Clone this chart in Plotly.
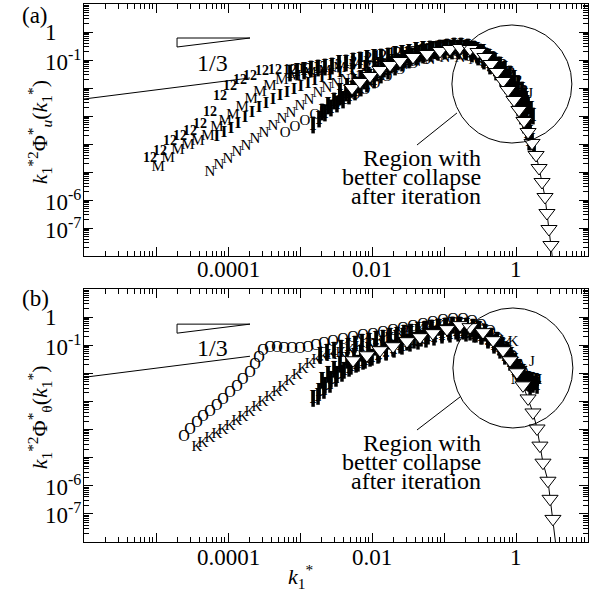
import plotly.graph_objects as go

# ---------------- panel (a) data ----------------
a12_x = [8.25e-6, 1.14e-5, 1.57e-5, 2.15e-5, 2.97e-5, 4.08e-5, 5.62e-5, 7.74e-5, 1.07e-4, 1.47e-4, 2.02e-4, 2.97e-4,
         4.5e-4, 7.26e-4, 1.17e-3, 1.9e-3, 3.06e-3, 4.95e-3, 8.0e-3, 1.29e-2, 2.09e-2, 3.37e-2, 5.45e-2, 8.8e-2,
         0.142, 0.215, 0.316, 0.435, 0.6, 0.774, 0.97, 1.17]
a12_y = [3.16e-5, 5.62e-5, 1.28e-4, 1.78e-4, 2.91e-4, 5.18e-4, 1.39e-3, 5.18e-3, 1.09e-2, 1.93e-2, 2.68e-2, 3.73e-2,
         4.05e-2, 4.39e-2, 4.77e-2, 5.62e-2, 6.63e-2, 8.48e-2, 0.109, 0.139, 0.164, 0.193, 0.228, 0.268,
         0.291, 0.268, 0.193, 0.118, 6.63e-2, 3.43e-2, 1.64e-2, 7.81e-3]

aM_x = [1.07e-5, 1.47e-5, 2.02e-5, 2.78e-5, 3.83e-5, 5.28e-5, 7.0e-5, 9.1e-5, 1.17e-4, 1.57e-4, 2.09e-4, 2.78e-4,
        3.83e-4, 5.62e-4, 8.5e-4, 1.38e-3, 2.22e-3, 3.59e-3, 5.81e-3, 9.38e-3, 1.52e-2, 2.45e-2, 3.96e-2, 6.39e-2,
        0.103, 0.167, 0.245, 0.359, 0.495, 0.66, 0.85, 1.07, 1.29]
aM_y = [1.51e-5, 3.16e-5, 6.1e-5, 9.2e-5, 1.28e-4, 1.93e-4, 4.05e-4, 6.63e-4, 1.09e-3, 2.1e-3, 4.05e-3, 7.2e-3,
        1.18e-2, 1.93e-2, 2.68e-2, 3.43e-2, 4.05e-2, 5.18e-2, 6.63e-2, 8.48e-2, 0.1, 0.118, 0.139, 0.164,
        0.193, 0.193, 0.164, 0.118, 7.2e-2, 3.73e-2, 1.78e-2, 7.81e-3, 3.43e-3]

aI_x = [7.0e-5, 8.8e-5, 1.1e-4, 1.38e-4, 1.72e-4, 2.15e-4, 2.69e-4, 3.37e-4, 4.22e-4, 5.28e-4, 6.6e-4, 8.25e-4,
        1.03e-3, 1.29e-3, 1.61e-3, 2.02e-3, 2.61e-3, 3.59e-3, 5.28e-3, 8.0e-3, 1.21e-2, 1.9e-2, 2.97e-2, 4.64e-2,
        7.5e-2, 0.121, 0.196, 0.297, 0.435, 0.6, 0.774, 0.97, 1.17, 1.38]
aI_y = [1.78e-4, 2.47e-4, 3.43e-4, 5.18e-4, 8.48e-4, 1.28e-3, 1.93e-3, 2.68e-3, 3.73e-3, 5.18e-3, 6.63e-3, 8.48e-3,
        1.09e-2, 1.39e-2, 1.78e-2, 2.28e-2, 2.68e-2, 3.43e-2, 4.39e-2, 5.62e-2, 7.2e-2, 9.2e-2, 0.109, 0.128,
        0.151, 0.164, 0.151, 0.118, 7.2e-2, 3.73e-2, 1.93e-2, 8.48e-3, 3.73e-3, 1.51e-3]

aN_x = [5.62e-5, 7.5e-5, 1.0e-4, 1.33e-4, 1.78e-4, 2.37e-4, 3.16e-4, 4.22e-4, 5.62e-4, 7.5e-4, 1.0e-3, 1.33e-3,
        1.78e-3, 2.37e-3, 3.16e-3, 4.22e-3, 5.81e-3, 8.25e-3, 1.21e-2, 1.78e-2, 2.69e-2, 4.08e-2, 6.39e-2, 0.103,
        0.167, 0.261, 0.383, 0.528, 0.7, 0.91, 1.14, 1.38]
aN_y = [1.0e-5, 1.78e-5, 2.91e-5, 5.18e-5, 8.48e-5, 1.51e-4, 2.47e-4, 4.39e-4, 7.81e-4, 1.28e-3, 2.28e-3, 3.73e-3,
        6.63e-3, 1.0e-2, 1.39e-2, 1.93e-2, 2.47e-2, 3.16e-2, 4.05e-2, 5.18e-2, 6.63e-2, 8.48e-2, 0.1, 0.118,
        0.118, 0.1, 7.2e-2, 4.39e-2, 2.28e-2, 1.09e-2, 4.39e-3, 1.64e-3]

aO_x = [6.2e-4, 8.5e-4, 1.17e-3, 1.61e-3, 2.22e-3, 3.06e-3, 4.22e-3, 5.81e-3, 8.0e-3, 1.1e-2, 1.61e-2, 2.45e-2,
        3.71e-2, 5.62e-2, 8.8e-2, 0.142, 0.23, 0.348, 0.495, 0.66, 0.85, 1.07, 1.29]
aO_y = [2.47e-4, 4.05e-4, 6.63e-4, 1.09e-3, 1.64e-3, 2.47e-3, 3.73e-3, 5.62e-3, 8.48e-3, 1.39e-2, 2.47e-2, 4.39e-2,
        7.2e-2, 0.1, 0.128, 0.151, 0.128, 8.48e-2, 4.39e-2, 2.1e-2, 9.2e-3, 3.73e-3, 1.39e-3]

aB1_x = [1.52e-3, 1.84e-3, 2.22e-3, 2.69e-3, 3.26e-3, 3.96e-3, 4.8e-3, 5.81e-3, 7.0e-3, 8.5e-3, 1.07e-2, 1.33e-2,
         1.67e-2, 2.09e-2, 2.61e-2, 3.26e-2, 4.08e-2, 5.1e-2, 6.39e-2, 8.0e-2, 0.1, 0.125, 0.157, 0.196, 0.237,
         0.287, 0.348, 0.422, 0.51, 0.6, 0.7, 0.825, 0.938, 1.07, 1.21, 1.33, 1.47, 1.57, 1.67, 1.78]
aB1_y = [4.77e-4, 7.81e-4, 1.28e-3, 1.93e-3, 2.68e-3, 3.73e-3, 5.18e-3, 7.2e-3, 1.0e-2, 1.39e-2, 1.93e-2, 2.91e-2,
         4.05e-2, 5.62e-2, 7.81e-2, 0.1, 0.128, 0.151, 0.178, 0.21, 0.228, 0.247, 0.247, 0.228, 0.193,
         0.151, 0.109, 7.81e-2, 5.18e-2, 3.43e-2, 2.1e-2, 1.28e-2, 7.2e-3, 4.05e-3, 2.1e-3, 1.09e-3, 5.18e-4,
         2.47e-4, 1.18e-4, 6.1e-5]

aB2_x = [2.02e-3, 2.45e-3, 2.97e-3, 3.59e-3, 4.35e-3, 5.28e-3, 6.39e-3, 7.74e-3, 9.38e-3, 1.17e-2, 1.47e-2, 1.84e-2,
         2.3e-2, 2.87e-2, 3.59e-2, 4.5e-2, 5.62e-2, 7.0e-2, 8.8e-2, 0.11, 0.138, 0.172, 0.215, 0.261, 0.316,
         0.383, 0.464, 0.562, 0.66, 0.774, 0.88, 1.0, 1.14, 1.25, 1.38, 1.52]
aB2_y = [1.39e-3, 2.28e-3, 3.43e-3, 4.77e-3, 6.63e-3, 9.2e-3, 1.28e-2, 1.78e-2, 2.47e-2, 3.43e-2, 4.77e-2, 6.63e-2,
         8.48e-2, 0.109, 0.139, 0.164, 0.193, 0.228, 0.268, 0.291, 0.316, 0.316, 0.291, 0.247, 0.193,
         0.139, 0.1, 6.63e-2, 4.05e-2, 2.47e-2, 1.39e-2, 7.81e-3, 4.05e-3, 2.1e-3, 1.09e-3, 5.18e-4]

aB3_x = [7.26e-4, 9.1e-4, 1.14e-3, 1.42e-3, 1.78e-3, 2.22e-3, 2.78e-3, 3.48e-3, 4.35e-3, 5.45e-3, 6.81e-3, 8.5e-3,
         1.07e-2, 1.33e-2, 1.67e-2, 2.09e-2, 2.61e-2, 3.26e-2, 4.08e-2, 5.1e-2, 6.39e-2, 8.0e-2, 0.1, 0.125,
         0.157, 0.196, 0.237, 0.287, 0.348, 0.422, 0.51, 0.6, 0.7, 0.825, 0.938, 1.07, 1.21, 1.33]
aB3_y = [3.43e-2, 3.73e-2, 4.05e-2, 4.77e-2, 5.18e-2, 5.62e-2, 6.1e-2, 7.2e-2, 7.81e-2, 9.2e-2, 0.1, 0.109,
         0.118, 0.128, 0.139, 0.151, 0.164, 0.178, 0.21, 0.228, 0.247, 0.247, 0.268, 0.268,
         0.268, 0.268, 0.247, 0.21, 0.178, 0.128, 9.2e-2, 6.63e-2, 4.77e-2, 3.16e-2, 2.1e-2, 1.39e-2, 8.48e-3, 5.18e-3]

aB4_x = [3.59e-3, 4.5e-3, 5.62e-3, 7.0e-3, 8.8e-3, 1.1e-2, 1.38e-2, 1.72e-2, 2.15e-2, 2.69e-2, 3.37e-2, 4.22e-2,
         5.28e-2, 6.6e-2, 8.25e-2, 0.103, 0.129, 0.161, 0.202, 0.245, 0.297, 0.359, 0.435, 0.528, 0.62, 0.726,
         0.825, 0.938, 1.07, 1.17, 1.29, 1.42, 1.52]
aB4_y = [7.2e-3, 1.09e-2, 1.51e-2, 2.1e-2, 2.91e-2, 4.05e-2, 5.18e-2, 6.63e-2, 8.48e-2, 0.1, 0.118, 0.139,
         0.164, 0.178, 0.193, 0.21, 0.21, 0.21, 0.193, 0.164, 0.128, 9.2e-2, 6.1e-2, 3.73e-2, 2.28e-2, 1.28e-2,
         7.2e-3, 3.73e-3, 1.93e-3, 1.0e-3, 4.77e-4, 2.28e-4, 1.18e-4]

aJ_x = [1.29, 1.57]
aJ_y = [7.2e-3, 6.1e-3]
aBump_x = [1.38, 1.47, 1.61, 1.72]
aBump_y = [3.73e-3, 2.47e-3, 1.64e-3, 1.0e-3]

aFT_x = [0.297, 0.383, 0.48, 0.6, 0.726, 0.85, 0.97, 1.1, 1.25, 1.38, 1.47]
aFT_y = [0.151, 0.1, 6.1e-2, 3.43e-2, 1.78e-2, 9.2e-3, 4.77e-3, 2.28e-3, 1.09e-3, 5.18e-4, 2.68e-4]

aT_x = [5.28e-3, 6.81e-3, 9.38e-3, 1.29e-2, 1.78e-2, 2.45e-2, 3.71e-2, 5.81e-2, 8.8e-2, 0.121, 0.167, 0.23,
        0.297, 0.371, 0.45, 0.545, 0.66, 0.774, 0.938, 1.1, 1.29, 1.47, 1.67, 1.9, 2.09, 2.3, 2.53, 2.69,
        2.87, 3.06, 3.26]
aT_y = [1.0e-2, 1.64e-2, 2.68e-2, 4.39e-2, 6.63e-2, 9.2e-2, 0.128, 0.164, 0.21, 0.247, 0.268, 0.247,
        0.193, 0.128, 7.2e-2, 3.73e-2, 1.78e-2, 8.48e-3, 3.73e-3, 1.64e-3, 6.63e-4, 2.68e-4, 1.09e-4, 4.05e-5,
        1.39e-5, 4.39e-6, 1.28e-6, 3.43e-7, 9.2e-8, 2.47e-8, 6.1e-9]

# ---------------- panel (b) data ----------------
bO_x = [2.45e-5, 2.97e-5, 3.71e-5, 4.5e-5, 5.62e-5, 7.0e-5, 8.5e-5, 1.07e-4, 1.33e-4, 1.61e-4, 2.02e-4, 2.37e-4,
        2.69e-4, 3.06e-4, 3.83e-4, 4.8e-4, 6.0e-4, 7.74e-4, 1.0e-3, 1.29e-3, 1.67e-3, 2.15e-3, 2.87e-3, 3.96e-3,
        5.45e-3, 7.5e-3, 1.03e-2, 1.42e-2, 1.96e-2, 2.69e-2, 3.71e-2, 5.1e-2, 7.0e-2, 9.7e-2, 0.133, 0.184,
        0.245, 0.326, 0.435, 0.562, 0.7, 0.88, 1.07, 1.25]
bO_y = [5.62e-5, 1.0e-4, 1.64e-4, 2.68e-4, 4.05e-4, 6.63e-4, 1.09e-3, 1.93e-3, 3.16e-3, 5.62e-3, 1.0e-2, 1.93e-2,
        3.43e-2, 6.1e-2, 7.81e-2, 7.81e-2, 7.2e-2, 7.2e-2, 7.2e-2, 7.81e-2, 9.2e-2, 0.109, 0.128, 0.151,
        0.178, 0.21, 0.228, 0.268, 0.316, 0.373, 0.439, 0.518, 0.61, 0.72, 0.781, 0.781,
        0.663, 0.477, 0.291, 0.151, 7.81e-2, 3.73e-2, 1.78e-2, 9.2e-3]

bK_x = [3.71e-5, 4.5e-5, 5.62e-5, 7.0e-5, 8.5e-5, 1.07e-4, 1.33e-4, 1.61e-4, 2.02e-4, 2.53e-4, 3.06e-4, 3.83e-4,
        4.8e-4, 5.81e-4, 7.26e-4, 9.1e-4, 1.1e-3, 1.38e-3, 1.72e-3, 2.15e-3, 2.78e-3, 3.71e-3, 4.95e-3, 6.81e-3,
        9.38e-3, 1.29e-2, 1.78e-2, 2.45e-2, 3.37e-2, 4.64e-2, 6.39e-2, 8.8e-2, 0.121, 0.167, 0.23, 0.316,
        0.435, 0.581, 0.75, 0.91]
bK_y = [2.28e-5, 3.16e-5, 4.77e-5, 6.63e-5, 9.2e-5, 1.28e-4, 1.93e-4, 2.68e-4, 4.05e-4, 6.1e-4, 9.2e-4, 1.39e-3,
        2.1e-3, 3.16e-3, 5.18e-3, 8.48e-3, 1.39e-2, 2.1e-2, 2.91e-2, 3.73e-2, 4.39e-2, 5.18e-2, 6.63e-2, 8.48e-2,
        0.109, 0.139, 0.178, 0.228, 0.291, 0.343, 0.405, 0.477, 0.518, 0.562, 0.477, 0.373,
        0.228, 0.139, 0.109, 0.128]

bB1_x = [1.52e-3, 1.84e-3, 2.22e-3, 2.69e-3, 3.26e-3, 4.08e-3, 5.1e-3, 6.39e-3, 8.0e-3, 1.0e-2, 1.25e-2, 1.57e-2,
         1.96e-2, 2.45e-2, 3.06e-2, 3.83e-2, 4.8e-2, 6.0e-2, 7.5e-2, 9.38e-2, 0.117, 0.147, 0.184, 0.23, 0.278,
         0.337, 0.408, 0.495, 0.581, 0.681, 0.8, 0.91, 1.03, 1.17, 1.33, 1.52, 1.72, 1.96]
bB1_y = [1.28e-3, 2.28e-3, 3.73e-3, 6.1e-3, 9.2e-3, 1.28e-2, 1.78e-2, 2.28e-2, 2.91e-2, 3.73e-2, 4.77e-2, 6.1e-2,
         7.81e-2, 0.1, 0.128, 0.151, 0.178, 0.21, 0.247, 0.268, 0.291, 0.316, 0.316, 0.291, 0.247,
         0.21, 0.164, 0.118, 8.48e-2, 5.62e-2, 3.43e-2, 2.1e-2, 1.28e-2, 7.81e-3, 5.62e-3, 4.39e-3, 4.05e-3, 3.73e-3]

bB2_x = [2.02e-3, 2.45e-3, 2.97e-3, 3.59e-3, 4.5e-3, 5.62e-3, 7.0e-3, 8.8e-3, 1.1e-2, 1.38e-2, 1.72e-2, 2.15e-2,
         2.69e-2, 3.37e-2, 4.22e-2, 5.28e-2, 6.6e-2, 8.25e-2, 0.103, 0.129, 0.161, 0.202, 0.253, 0.306, 0.371,
         0.45, 0.545, 0.639, 0.75, 0.88, 1.0, 1.14, 1.29, 1.47, 1.67, 1.9]
bB2_y = [5.62e-3, 9.2e-3, 1.39e-2, 2.1e-2, 2.91e-2, 4.05e-2, 5.18e-2, 6.63e-2, 8.48e-2, 0.109, 0.139, 0.178,
         0.21, 0.247, 0.291, 0.343, 0.405, 0.439, 0.477, 0.518, 0.518, 0.477, 0.405, 0.343, 0.268,
         0.193, 0.128, 8.48e-2, 5.18e-2, 3.16e-2, 1.93e-2, 1.18e-2, 7.81e-3, 6.1e-3, 5.62e-3, 5.18e-3]

bB3_x = [1.9e-3, 2.37e-3, 2.97e-3, 3.71e-3, 4.64e-3, 5.81e-3, 7.26e-3, 9.1e-3, 1.14e-2, 1.42e-2, 1.78e-2, 2.22e-2,
         2.78e-2, 3.48e-2, 4.35e-2, 5.45e-2, 6.81e-2, 8.5e-2, 0.107, 0.133, 0.167, 0.209, 0.253, 0.306, 0.371,
         0.45, 0.545, 0.639, 0.75, 0.85, 0.97, 1.1, 1.25]
bB3_y = [4.39e-2, 5.62e-2, 6.63e-2, 7.81e-2, 9.2e-2, 0.109, 0.128, 0.139, 0.164, 0.178, 0.21, 0.228,
         0.268, 0.291, 0.343, 0.373, 0.405, 0.439, 0.477, 0.518, 0.518, 0.477, 0.439, 0.373, 0.291,
         0.21, 0.151, 0.1, 6.63e-2, 4.39e-2, 2.68e-2, 1.64e-2, 1.09e-2]

bB4_x = [1.78e-3, 2.15e-3, 2.61e-3, 3.16e-3, 3.83e-3, 4.8e-3, 6.0e-3, 7.5e-3, 9.38e-3, 1.21e-2, 1.57e-2, 2.02e-2,
         2.61e-2, 3.37e-2, 4.35e-2, 5.62e-2, 7.26e-2, 9.38e-2, 0.121, 0.157, 0.202, 0.261, 0.326, 0.408, 0.495,
         0.6, 0.7, 0.825, 0.938, 1.07, 1.21, 1.38, 1.57]
bB4_y = [1.51e-3, 2.47e-3, 4.05e-3, 6.63e-3, 1.0e-2, 1.51e-2, 2.1e-2, 2.68e-2, 3.43e-2, 4.39e-2, 5.62e-2, 7.2e-2,
         9.2e-2, 0.118, 0.139, 0.164, 0.193, 0.228, 0.247, 0.268, 0.268, 0.247, 0.21, 0.151, 0.1,
         6.63e-2, 4.05e-2, 2.47e-2, 1.51e-2, 9.2e-3, 6.1e-3, 4.77e-3, 3.43e-3]

bJ_x = [1.67]
bJ_y = [2.47e-2]
bM_x = [1.07, 1.84]
bM_y = [5.62e-3, 5.62e-3]

bFT_x = [0.348, 0.435, 0.545, 0.66, 0.8, 0.97, 1.14, 1.33, 1.57, 1.78]
bFT_y = [0.247, 0.164, 0.109, 7.2e-2, 4.05e-2, 2.28e-2, 1.39e-2, 8.48e-3, 5.62e-3, 4.05e-3]

bT_x = [5.45e-3, 8.5e-3, 1.29e-2, 1.96e-2, 3.06e-2, 4.64e-2, 7.0e-2, 0.11, 0.167, 0.23, 0.348, 0.48, 0.66,
        0.825, 1.03, 1.25, 1.47, 1.72, 1.96, 2.15, 2.37, 2.78, 2.97, 3.26, 3.59]
bT_y = [2.91e-2, 4.39e-2, 6.63e-2, 9.2e-2, 0.139, 0.193, 0.268, 0.373, 0.518, 0.439, 0.291, 0.151, 6.63e-2,
        2.91e-2, 1.09e-2, 3.73e-3, 1.28e-3, 4.05e-4, 1.09e-4, 2.68e-5, 6.63e-6, 1.51e-6, 3.43e-7, 6.63e-8, 7.2e-9]

# slope 1/3 guide lines and triangles
slope_x = [1e-6, 2.02e-4]
slope_a_y = [4.05e-3, 2.28e-2]
slope_b_y = [7.2e-3, 4.05e-2]
tri_x = [1.96e-5, 2.02e-4, 1.96e-5, 1.96e-5]
tri_a_y = [0.61, 0.61, 0.291, 0.61]
tri_b_y = [0.562, 0.562, 0.268, 0.562]

# tick labels (log10 positions)
x_label_pos = [-4, -2, 0]
x_label_text = ["0.0001", "0.01", "1"]
y_label_pos = [0, -1, -6, -7]
y_label_text = ["1", "10<sup>-1</sup>", "10<sup>-6</sup>", "10<sup>-7</sup>"]

FONT = "Liberation Serif"
fig = go.Figure()


def txt(x, y, ch, xa, ya, size=14, weight="normal"):
    fig.add_trace(go.Scatter(x=x, y=y, mode="text", text=[ch] * len(x), textposition="middle center",
                             textfont=dict(family=FONT, size=size, color="black", weight=weight),
                             xaxis=xa, yaxis=ya, showlegend=False, hoverinfo="skip"))


def bars(x, y, xa, ya):
    # dense I-beam symbols: a thick vertical stem plus the serif glyph
    fig.add_trace(go.Scatter(x=x, y=y, mode="markers",
                             marker=dict(symbol="line-ns", size=12, line=dict(color="black", width=3.5)),
                             xaxis=xa, yaxis=ya, showlegend=False, hoverinfo="skip"))
    txt(x, y, "I", xa, ya, 18, "bold")


def line(x, y, xa, ya):
    fig.add_trace(go.Scatter(x=x, y=y, mode="lines", line=dict(color="black", width=1),
                             xaxis=xa, yaxis=ya, showlegend=False, hoverinfo="skip"))


def filled_tri(x, y, xa, ya):
    fig.add_trace(go.Scatter(x=x, y=y, mode="markers",
                             marker=dict(symbol="triangle-down", size=12, color="black",
                                         line=dict(color="black", width=1)),
                             xaxis=xa, yaxis=ya, showlegend=False, hoverinfo="skip"))


def open_tri(x, y, xa, ya):
    fig.add_trace(go.Scatter(x=x, y=y, mode="lines+markers", line=dict(color="black", width=1),
                             marker=dict(symbol="triangle-down", size=14, color="white",
                                         line=dict(color="black", width=1)),
                             xaxis=xa, yaxis=ya, showlegend=False, hoverinfo="skip"))


# panel (a)
line(slope_x, slope_a_y, "x", "y")
line(tri_x, tri_a_y, "x", "y")
txt(a12_x, a12_y, "12", "x", "y", 14, "bold")
txt(aM_x, aM_y, "M", "x", "y", 15)
txt(aI_x, aI_y, "I", "x", "y", 17, "bold")
txt(aN_x, aN_y, "N", "x", "y", 15)
txt(aO_x, aO_y, "O", "x", "y", 15)
bars(aB1_x, aB1_y, "x", "y")
bars(aB2_x, aB2_y, "x", "y")
bars(aB3_x, aB3_y, "x", "y")
bars(aB4_x, aB4_y, "x", "y")
bars(aBump_x, aBump_y, "x", "y")
txt(aJ_x, aJ_y, "J", "x", "y", 15)
filled_tri(aFT_x, aFT_y, "x", "y")
open_tri(aT_x, aT_y, "x", "y")

# panel (b)
line(slope_x, slope_b_y, "x2", "y2")
line(tri_x, tri_b_y, "x2", "y2")
txt(bK_x, bK_y, "K", "x2", "y2", 15)
bars(bB1_x, bB1_y, "x2", "y2")
bars(bB2_x, bB2_y, "x2", "y2")
bars(bB3_x, bB3_y, "x2", "y2")
bars(bB4_x, bB4_y, "x2", "y2")
txt(bO_x, bO_y, "O", "x2", "y2", 16)
txt(bM_x, bM_y, "M", "x2", "y2", 15, "bold")
txt(bJ_x, bJ_y, "J", "x2", "y2", 15)
filled_tri(bFT_x, bFT_y, "x2", "y2")
open_tri(bT_x, bT_y, "x2", "y2")

MINOR = dict(dtick="D1", ticks="inside", ticklen=5, tickwidth=1, tickcolor="black", showgrid=False)


def xaxis(anchor):
    return dict(type="log", range=[-6, 1], tickmode="linear", tick0=0, dtick=1, showticklabels=False,
                ticks="inside", ticklen=9, tickwidth=1, tickcolor="black", minor=MINOR,
                showline=True, linecolor="black", linewidth=1, mirror="allticks", showgrid=False,
                zeroline=False, anchor=anchor)


def yaxis(anchor, domain):
    return dict(type="log", range=[-8, 1], domain=domain, tickmode="linear", tick0=0, dtick=1,
                showticklabels=False, ticks="inside", ticklen=9, tickwidth=1, tickcolor="black", minor=MINOR,
                showline=True, linecolor="black", linewidth=1, mirror="allticks", showgrid=False,
                zeroline=False, anchor=anchor)


TICKFONT = dict(family=FONT, size=23, color="black")
annotations = []
for yref in ["y", "y2"]:
    for pos, t in zip(y_label_pos, y_label_text):
        annotations.append(dict(xref="paper", yref=yref, x=-0.0813, y=pos, xanchor="left", yanchor="middle",
                                text=t, showarrow=False, font=TICKFONT))
for xref, yy in [("x", 0.5056), ("x2", -0.0279)]:
    for pos, t in zip(x_label_pos, x_label_text):
        annotations.append(dict(xref=xref, yref="paper", x=pos, y=yy, xanchor="center", yanchor="middle",
                                text=t, showarrow=False, font=TICKFONT))

ytitles = [("<i>k</i><sub>1</sub><sup>*2</sup>Φ<sup>*</sup><sub><i>u</i></sub>(<i>k</i><sub>1</sub><sup>*</sup>)", 0.762),
           ("<i>k</i><sub>1</sub><sup>*2</sup>Φ<sup>*</sup><sub>θ</sub>(<i>k</i><sub>1</sub><sup>*</sup>)", 0.232)]
for t, yy in ytitles:
    annotations.append(dict(xref="paper", yref="paper", x=-0.089, y=yy, xanchor="center", yanchor="middle",
                            text=t, textangle=-90, showarrow=False,
                            font=dict(family=FONT, size=22, color="black")))

annotations.append(dict(xref="paper", yref="paper", x=0.43, y=-0.065, xanchor="center", yanchor="middle",
                        text="<i>k</i><sub>1</sub><sup>*</sup>", showarrow=False,
                        font=dict(family=FONT, size=22, color="black")))

for lab, yy in [("(a)", 0.978), ("(b)", 0.4517)]:
    annotations.append(dict(xref="paper", yref="paper", x=-0.0972, y=yy, xanchor="center", yanchor="middle",
                            text=lab, showarrow=False, font=TICKFONT))

for yy in [0.890, 0.3605]:
    annotations.append(dict(xref="paper", yref="paper", x=0.254, y=yy, xanchor="center", yanchor="middle",
                            text="1/3", showarrow=False, font=dict(family=FONT, size=24, color="black")))

region_lines = ["Region with", "better collapse", "after iteration"]
for base in [0.7138, 0.1840]:
    for i, t in enumerate(region_lines):
        annotations.append(dict(xref="paper", yref="paper", x=0.7917, y=base - i * 0.0353, xanchor="right",
                                yanchor="middle", text=t, showarrow=False,
                                font=dict(family=FONT, size=24, color="black")))

shapes = [
    dict(type="circle", xref="paper", yref="paper", x0=0.730, x1=0.968, y0=0.7416, y1=0.961,
         line=dict(color="black", width=1)),
    dict(type="circle", xref="paper", yref="paper", x0=0.732, x1=0.970, y0=0.2119, y1=0.435,
         line=dict(color="black", width=1)),
    dict(type="line", xref="paper", yref="paper", x0=0.740, y0=0.7974, x1=0.6607, y1=0.7379,
         line=dict(color="black", width=1)),
    dict(type="line", xref="paper", yref="paper", x0=0.746, y0=0.2695, x1=0.6607, y1=0.2082,
         line=dict(color="black", width=1)),
]

fig.update_layout(
    width=599, height=599,
    margin=dict(l=84, r=11, t=4, b=57),
    paper_bgcolor="white", plot_bgcolor="white",
    xaxis=xaxis("y"), yaxis=yaxis("x", [0.5316, 1.0]),
    xaxis2=xaxis("y2"), yaxis2=yaxis("x2", [0.0, 0.4703]),
    annotations=annotations, shapes=shapes, showlegend=False,
    font=dict(family=FONT, color="black"),
)

fig.write_html("out.html", config={"displayModeBar": False},
               post_script="document.body.style.margin='0px';")
